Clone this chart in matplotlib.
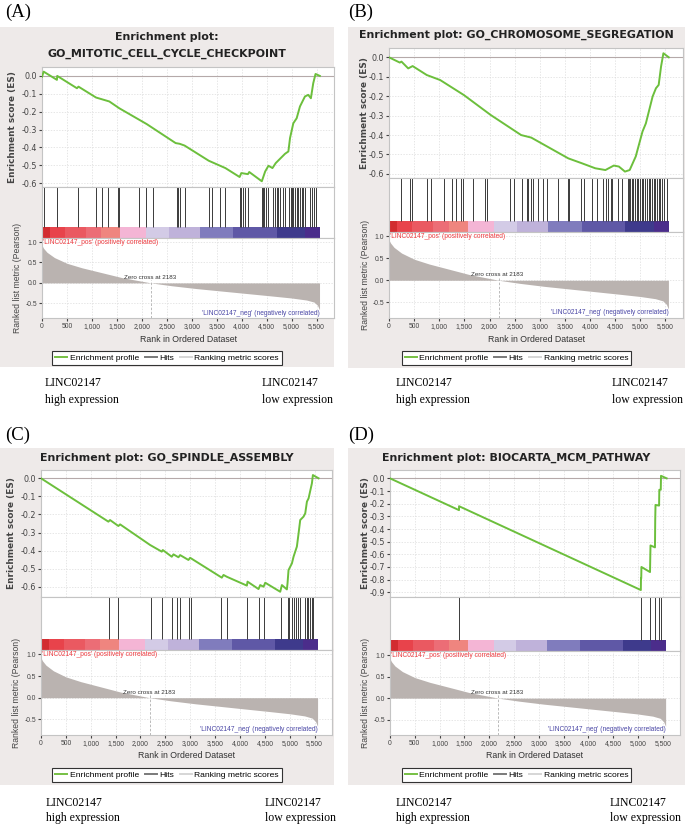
import numpy as np
import matplotlib
matplotlib.use('Agg')
import matplotlib.pyplot as plt
from matplotlib.patches import Rectangle
from matplotlib.lines import Line2D
from matplotlib.ticker import FuncFormatter, MultipleLocator

plt.rcParams['axes.unicode_minus'] = False

W, H = 685, 825

# ranked list (shared by all four panels)
zero_cross = 2183
metric_rank = [0, 30, 100, 250, 500, 800, 1200, 1600, 2183, 2600, 3100, 3600,
               4100, 4600, 5000, 5300, 5450, 5520, 5560]
metric_val = [0.92, 0.85, 0.75, 0.62, 0.48, 0.37, 0.25, 0.13, 0.0, -0.07, -0.14,
              -0.2, -0.26, -0.32, -0.37, -0.42, -0.47, -0.55, -0.66]

# heat bar under the hits
bar_edges = [0, 160, 455, 885, 1185, 1565, 2090, 2545, 3170, 3835, 4700, 5270, 5567]
bar_colors = ['#d22c30', '#e8434b', '#ea5961', '#ec6d76', '#ef857f', '#f4b5d5',
              '#d3cbe6', '#bfb2da', '#807cbd', '#5f58a6', '#3e3a8c', '#4b2d8b']

# A: GO_MITOTIC_CELL_CYCLE_CHECKPOINT
a_hits = [33, 299, 731, 1083, 1202, 1329, 1515, 1548, 1946, 2093, 2232, 2697, 2730,
          2757, 2857, 3355, 3408, 3574, 3674, 3959, 3986, 4019, 4072, 4125, 4404,
          4424, 4451, 4484, 4524, 4637, 4670, 4703, 4737, 4763, 4836, 4870, 4949,
          4982, 5002, 5035, 5069, 5102, 5135, 5168, 5202, 5235, 5268, 5368, 5401,
          5447, 5487]
a_es_rank = [0, 33, 299, 305, 700, 731, 1083, 1349, 1548, 2100, 2677, 2757, 2857,
             3341, 3674, 3959, 3993, 4125, 4152, 4404, 4471, 4537, 4617, 4683, 4869,
             4936, 4969, 5035, 5102, 5168, 5268, 5334, 5387, 5434, 5480, 5567]
a_es = [-0.005, 0.024, -0.022, 0.0, -0.069, -0.06, -0.121, -0.143, -0.181, -0.27,
        -0.376, -0.38, -0.39, -0.475, -0.516, -0.566, -0.544, -0.55, -0.538, -0.59,
        -0.535, -0.503, -0.516, -0.488, -0.436, -0.423, -0.348, -0.265, -0.237,
        -0.171, -0.115, -0.106, -0.125, -0.041, 0.011, 0.0]

# B: GO_CHROMOSOME_SEGREGATION
b_hits = [235, 416, 456, 751, 838, 1087, 1254, 1341, 1442, 1476, 1663, 1911, 1945,
          2415, 2495, 2649, 2736, 2763, 2830, 2864, 2965, 3065, 3139, 3354, 3555,
          3588, 3823, 3890, 4038, 4145, 4259, 4326, 4360, 4413, 4440, 4561, 4628,
          4749, 4775, 4802, 4829, 4863, 4896, 4930, 4963, 4997, 5030, 5064, 5097,
          5131, 5164, 5198, 5232, 5265, 5298, 5332, 5366, 5399, 5433, 5466, 5533]
b_es_rank = [0, 215, 248, 382, 470, 751, 1019, 1489, 2025, 2629, 2830, 3568, 3836,
             4105, 4306, 4473, 4574, 4695, 4789, 4910, 5044, 5111, 5245, 5312, 5366,
             5413, 5460, 5567]
b_es = [0.0, -0.027, -0.022, -0.057, -0.045, -0.091, -0.117, -0.194, -0.297, -0.4,
        -0.413, -0.52, -0.545, -0.571, -0.58, -0.557, -0.562, -0.588, -0.58, -0.51,
        -0.382, -0.34, -0.202, -0.159, -0.142, -0.048, 0.021, 0.0]

# C: GO_SPINDLE_ASSEMBLY
c_hits = [1368, 1549, 2207, 2435, 2636, 2743, 2790, 2971, 3025, 3628, 3742, 4145,
          4380, 4487, 4816, 4957, 4983, 5050, 5091, 5117, 5158, 5198, 5305, 5339,
          5372, 5406, 5439, 5473]
c_es_rank = [0, 1355, 1388, 1556, 1590, 2193, 2428, 2448, 2629, 2663, 2763, 2797,
             2964, 2998, 3635, 3669, 3736, 4139, 4152, 4373, 4407, 4474, 4508, 4809,
             4843, 4943, 4956, 4976, 5044, 5077, 5144, 5178, 5211, 5278, 5312, 5346,
             5379, 5446, 5466, 5580]
c_es = [0.0, -0.24, -0.231, -0.264, -0.255, -0.369, -0.406, -0.397, -0.434, -0.421,
        -0.437, -0.425, -0.452, -0.44, -0.55, -0.535, -0.545, -0.594, -0.572, -0.613,
        -0.591, -0.6, -0.578, -0.628, -0.591, -0.615, -0.581, -0.508, -0.471, -0.434,
        -0.378, -0.305, -0.231, -0.212, -0.194, -0.129, -0.111, -0.028, 0.018, 0.0]

# D: BIOCARTA_MCM_PATHWAY
d_hits = [1392, 5065, 5250, 5350, 5433, 5467]
d_es_rank = [0, 1392, 1393, 5060, 5063, 5068, 5072, 5245, 5250, 5255, 5345, 5350,
             5356, 5428, 5433, 5462, 5467, 5581]
d_es = [0.0, -0.251, -0.22, -0.882, -0.79, -0.79, -0.70, -0.74, -0.63, -0.53,
        -0.545, -0.33, -0.21, -0.215, -0.09, -0.09, 0.02, 0.0]

panels = [
    dict(tag='(A)', title=['Enrichment plot:', 'GO_MITOTIC_CELL_CYCLE_CHECKPOINT'],
         hits=a_hits, er=a_es_rank, es=a_es, box=(0, 27, 334, 367), left=42, right=334,
         es_y=(67, 187), hit_y=(187, 238), met_y=(238, 318), title_y=[37, 54],
         es_lim=(-0.622, 0.05), tag_xy=(5, 12), cap_x=(45, 262), cap_y=(383, 400)),
    dict(tag='(B)', title=['Enrichment plot: GO_CHROMOSOME_SEGREGATION'],
         hits=b_hits, er=b_es_rank, es=b_es, box=(348, 27, 685, 368), left=389, right=683,
         es_y=(48, 178), hit_y=(178, 232), met_y=(232, 318), title_y=[35],
         es_lim=(-0.621, 0.048), tag_xy=(348, 12), cap_x=(396, 612), cap_y=(383, 400)),
    dict(tag='(C)', title=['Enrichment plot: GO_SPINDLE_ASSEMBLY'],
         hits=c_hits, er=c_es_rank, es=c_es, box=(0, 448, 334, 785), left=41, right=332,
         es_y=(470, 597), hit_y=(597, 650), met_y=(650, 735), title_y=[458],
         es_lim=(-0.657, 0.046), tag_xy=(5, 435), cap_x=(46, 265), cap_y=(803, 818)),
    dict(tag='(D)', title=['Enrichment plot: BIOCARTA_MCM_PATHWAY'],
         hits=d_hits, er=d_es_rank, es=d_es, box=(348, 448, 685, 785), left=390, right=680,
         es_y=(470, 597), hit_y=(597, 651), met_y=(651, 735), title_y=[458],
         es_lim=(-0.937, 0.066), tag_xy=(348, 435), cap_x=(396, 610), cap_y=(803, 818)),
]

fig = plt.figure(figsize=(W / 100, H / 100), dpi=100)
fig.patch.set_facecolor('white')


def add_ax(x0, y0, x1, y1):
    return fig.add_axes([x0 / W, 1 - y1 / H, (x1 - x0) / W, (y1 - y0) / H])


def ftext(x, y, s, **kw):
    return fig.text(x / W, 1 - y / H, s, **kw)


def style(ax):
    for sp in ax.spines.values():
        sp.set_color('#c4c4c4')
        sp.set_linewidth(0.8)
    ax.set_facecolor('white')


SANS = 'Liberation Sans'
SERIF = 'Liberation Serif'
XMAX = 5850

for p in panels:
    bx0, by0, bx1, by1 = p['box']
    fig.patches.append(Rectangle((bx0 / W, 1 - by1 / H), (bx1 - bx0) / W, (by1 - by0) / H,
                                 transform=fig.transFigure, facecolor='#eeeae9',
                                 edgecolor='none', zorder=-5))
    cx = (bx0 + bx1) / 2
    for line, ty in zip(p['title'], p['title_y']):
        ftext(cx, ty, line, ha='center', va='center', fontsize=7.9, fontweight='bold',
              color='#222222')
    ftext(p['tag_xy'][0], p['tag_xy'][1], p['tag'], ha='left', va='center',
          fontsize=13.5, family=SERIF)

    L, R = p['left'], p['right']

    # enrichment score
    ax = add_ax(L, p['es_y'][0], R, p['es_y'][1])
    style(ax)
    ax.plot(p['er'], p['es'], color='#6cbf3c', lw=1.4, zorder=3)
    ax.axhline(0, color='#b5a9a9', lw=0.8, zorder=2)
    ax.set_xlim(0, XMAX)
    ax.set_ylim(*p['es_lim'])
    ax.xaxis.set_major_locator(MultipleLocator(500))
    ax.yaxis.set_major_locator(MultipleLocator(0.1))
    ax.yaxis.set_major_formatter(FuncFormatter(lambda v, q: f'{v:.1f}' if abs(v) > 1e-9 else '0.0'))
    ax.tick_params(axis='x', length=0, labelbottom=False)
    ax.tick_params(axis='y', length=2, pad=1.5, labelsize=5.8, colors='#444444')
    ax.grid(True, ls=(0, (2, 2)), color='#dcdcdc', lw=0.5)
    ax.set_axisbelow(True)
    ftext(L - 29 if L < 100 else L - 24, sum(p['es_y']) / 2, 'Enrichment score (ES)',
          rotation=90, ha='center', va='center', fontsize=6.4, fontweight='bold',
          color='#444444')

    # hits + heat bar
    hx = add_ax(L, p['hit_y'][0], R, p['hit_y'][1])
    style(hx)
    hx.set_xlim(0, XMAX)
    hx.set_ylim(0, 1)
    widths = np.diff(bar_edges)
    hx.bar(bar_edges[:-1], 0.21, width=widths, bottom=0, align='edge',
           color=bar_colors, lw=0)
    hx.vlines(p['hits'], 0.21, 1.0, color='#3a3a3a', lw=0.7)
    hx.set_xticks([])
    hx.set_yticks([])

    # ranked list metric
    mx = add_ax(L, p['met_y'][0], R, p['met_y'][1])
    style(mx)
    mx.fill_between(metric_rank, metric_val, 0, color='#bab3b0', lw=0, zorder=2)
    mx.set_xlim(0, XMAX)
    mx.set_ylim(-0.86, 1.1)
    mx.set_xticks(np.arange(0, 5501, 500))
    mx.set_yticks([1.0, 0.5, 0.0, -0.5])
    mx.xaxis.set_major_formatter(FuncFormatter(lambda v, q: f'{int(v):,}'))
    mx.yaxis.set_major_formatter(FuncFormatter(lambda v, q: f'{v:.1f}'))
    mx.tick_params(length=2, pad=1.5, labelsize=4.9, colors='#444444')
    for t in mx.get_xticklabels() + mx.get_yticklabels():
        t.set_family(SANS)
    mx.grid(True, ls=(0, (2, 2)), color='#dcdcdc', lw=0.5)
    mx.set_axisbelow(True)
    ylo = mx.get_ylim()[0]
    mx.plot([zero_cross, zero_cross], [ylo, 0.07], ls=(0, (3, 2)), color='#b0b0b0',
            lw=0.6, zorder=1)
    mx.text(1640, 0.13, 'Zero cross at %d' % zero_cross, fontsize=4.5, family=SANS,
            va='center', ha='left', color='#333333', zorder=4)
    mx.text(20, 0.99, "'LINC02147_pos' (positively correlated)", fontsize=4.8,
            family=SANS, va='center', ha='left', color='#ee3a3f', zorder=4)
    mx.text(5570, -0.74, "'LINC02147_neg' (negatively correlated)", fontsize=4.8,
            family=SANS, va='center', ha='right', color='#4a47a6', zorder=4)

    mb = p['met_y'][1]
    ftext(L - 24, sum(p['met_y']) / 2, 'Ranked list metric (Pearson)',
          rotation=90, ha='center', va='center', fontsize=6.2, family=SANS, color='#444444')
    ftext((L + R) / 2, mb + 21, 'Rank in Ordered Dataset', ha='center', va='center',
          fontsize=6.3, family=SANS, color='#333333')

    handles = [Line2D([], [], color='#76c043', lw=1.4),
               Line2D([], [], color='#7a7a7a', lw=1.4),
               Line2D([], [], color='#d6d6d6', lw=1.4)]
    leg = fig.legend(handles, ['Enrichment profile', 'Hits', 'Ranking metric scores'],
                     ncol=3, loc='center', bbox_to_anchor=(cx / W, 1 - (mb + 40) / H),
                     prop={'family': SANS, 'size': 6.1}, frameon=True, fancybox=False,
                     edgecolor='#333333', framealpha=1, handlelength=1.4,
                     handletextpad=0.3, columnspacing=0.7, borderpad=0.35,
                     borderaxespad=0)
    leg.get_frame().set_linewidth(0.8)

    # captions under each panel
    for xx, word in zip(p['cap_x'], ['high expression', 'low expression']):
        ftext(xx, p['cap_y'][0], 'LINC02147', ha='left', va='center', fontsize=8.5,
              family=SERIF)
        ftext(xx, p['cap_y'][1], word, ha='left', va='center', fontsize=8.5,
              family=SERIF)

fig.savefig('out.png', dpi=100)
